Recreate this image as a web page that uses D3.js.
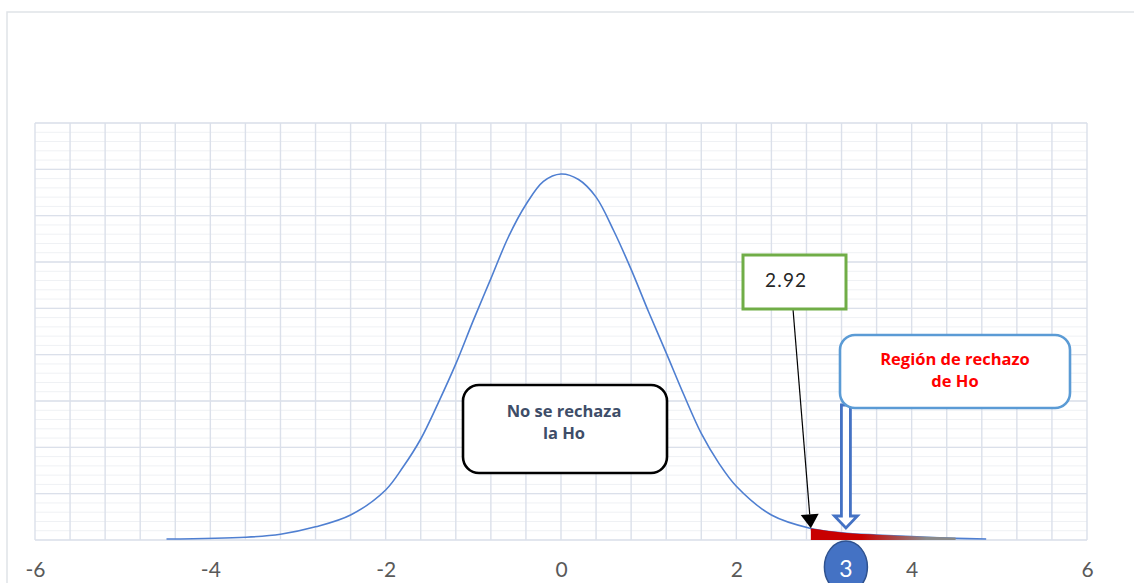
<!DOCTYPE html>
<html>
<head>
<meta charset="utf-8">
<script src="https://cdn.jsdelivr.net/npm/d3@7/dist/d3.min.js"></script>
<style>
  html, body { margin: 0; padding: 0; background: #fff; }
  svg { display: block; }
</style>
</head>
<body>
<div id="chart"></div>
<script>
// curve (x, density)
var curveX = [-4.5, -3.6, -3.2, -2.8, -2.4, -2.0, -1.8, -1.6, -1.4, -1.2, -1.0, -0.8, -0.6, -0.4, -0.2, 0,
              0.2, 0.4, 0.6, 0.8, 1.0, 1.2, 1.4, 1.6, 1.8, 2.0, 2.4, 2.85, 3.2, 3.6, 4.0, 4.5, 4.85];
var curveY = [0.001, 0.003, 0.0062, 0.0142, 0.027, 0.054, 0.079, 0.109, 0.148, 0.19, 0.237, 0.282, 0.327, 0.362, 0.387, 0.395,
              0.389, 0.37, 0.334, 0.292, 0.246, 0.202, 0.157, 0.115, 0.083, 0.058, 0.027, 0.0125, 0.0079, 0.0054, 0.0036, 0.0018, 0.001];

// rejection tail (filled)
var rejectX = [2.85, 3.2, 3.6, 4.0, 4.5];
var rejectY = [0.0115, 0.0072, 0.0048, 0.0032, 0.0016];

var xTickLabels = [-6, -4, -2, 0, 2, 4, 6];
var criticalLabel = '2.92';
var statLabel = '3';
var acceptText = ['No se rechaza', 'la Ho'];
var rejectText = ['Región de rechazo', 'de Ho'];

(function() {
  'use strict';

  var
    W = 1134,
    H = 583,
    plot = {left: 35, right: 1087, top: 123, bottom: 540},
    BLUE = '#4f7fd1',
    GRID = '#dbe0ea',
    MINOR = '#eff1f4',
    FONT = 'Lato, "Open Sans", sans-serif',
    BOLD = '"Open Sans", Lato, sans-serif';

  var svg = d3.select('#chart')
    .append('svg')
    .attr('width', W)
    .attr('height', H);

  svg.append('rect')
    .attr('width', W).attr('height', H)
    .attr('fill', '#fff');

  // outer chart frame
  svg.append('rect')
    .attr('x', 7).attr('y', 12)
    .attr('width', 1200).attr('height', 700)
    .attr('fill', 'none')
    .attr('stroke', '#e0e3e8')
    .attr('stroke-width', 1.5);

  var x = d3.scaleLinear().domain([-6, 6]).range([plot.left, plot.right]);
  var y = d3.scaleLinear().domain([0, 0.45]).range([plot.bottom, plot.top]);

  var grid = svg.append('g');

  // minor horizontal grid
  grid.selectAll('line.minor')
    .data(d3.range(0, 0.4501, 0.01))
    .enter()
    .append('line')
    .attr('class', 'minor')
    .attr('x1', plot.left).attr('x2', plot.right)
    .attr('y1', function(d) { return y(d); })
    .attr('y2', function(d) { return y(d); })
    .attr('stroke', MINOR)
    .attr('stroke-width', 1);

  // major horizontal grid
  grid.selectAll('line.hmajor')
    .data(d3.range(0, 0.4501, 0.05))
    .enter()
    .append('line')
    .attr('class', 'hmajor')
    .attr('x1', plot.left).attr('x2', plot.right)
    .attr('y1', function(d) { return y(d); })
    .attr('y2', function(d) { return y(d); })
    .attr('stroke', GRID)
    .attr('stroke-width', 1.4);

  // vertical grid
  grid.selectAll('line.v')
    .data(d3.range(0, 31).map(function(i) { return -6 + i * 0.4; }))
    .enter()
    .append('line')
    .attr('class', 'v')
    .attr('y1', plot.top).attr('y2', plot.bottom)
    .attr('x1', function(d) { return x(d); })
    .attr('x2', function(d) { return x(d); })
    .attr('stroke', GRID)
    .attr('stroke-width', 1.4);

  // x axis labels
  var xAxis = d3.axisBottom(x)
    .tickValues(xTickLabels)
    .tickFormat(function(d) { return String(d); })
    .tickSize(0)
    .tickPadding(0);

  var ax = svg.append('g')
    .attr('transform', 'translate(0,' + plot.bottom + ')')
    .call(xAxis);
  ax.select('.domain').remove();
  ax.selectAll('text')
    .attr('y', 37)
    .attr('dy', 0)
    .attr('fill', '#595959')
    .style('font-family', FONT)
    .style('font-size', '21px');

  var curve = curveX.map(function(v, i) { return [v, curveY[i]]; });
  var tail = rejectX.map(function(v, i) { return [v, rejectY[i]]; });

  var line = d3.line()
    .x(function(d) { return x(d[0]); })
    .y(function(d) { return y(d[1]); })
    .curve(d3.curveCatmullRom.alpha(0.5));

  svg.append('path')
    .attr('d', line(curve))
    .attr('fill', 'none')
    .attr('stroke', BLUE)
    .attr('stroke-width', 1.6);

  // rejection region, red fading to grey
  var defs = svg.append('defs');
  var grad = defs.append('linearGradient')
    .attr('id', 'rej')
    .attr('gradientUnits', 'userSpaceOnUse')
    .attr('x1', x(rejectX[0])).attr('x2', x(rejectX[rejectX.length - 1]))
    .attr('y1', 0).attr('y2', 0);
  grad.append('stop').attr('offset', '0%').attr('stop-color', '#c80000');
  grad.append('stop').attr('offset', '35%').attr('stop-color', '#c80000');
  grad.append('stop').attr('offset', '80%').attr('stop-color', '#8a8a8a');
  grad.append('stop').attr('offset', '100%').attr('stop-color', '#8a8a8a');

  var area = d3.area()
    .x(function(d) { return x(d[0]); })
    .y0(y(0))
    .y1(function(d) { return y(d[1]); })
    .curve(d3.curveMonotoneX);

  svg.append('path')
    .attr('d', area(tail))
    .attr('fill', 'url(#rej)');
  svg.append('path')
    .attr('d', d3.line()
      .x(function(d) { return x(d[0]); })
      .y(function(d) { return y(d[1]); })
      .curve(d3.curveMonotoneX)(tail))
    .attr('fill', 'none')
    .attr('stroke', 'url(#rej)')
    .attr('stroke-width', 1.8);

  // "No se rechaza" box
  svg.append('rect')
    .attr('x', 463).attr('y', 385)
    .attr('width', 204).attr('height', 88)
    .attr('rx', 16).attr('ry', 16)
    .attr('fill', '#fff')
    .attr('stroke', '#000')
    .attr('stroke-width', 2.6);
  svg.append('text')
    .attr('x', 564).attr('y', 417)
    .attr('text-anchor', 'middle')
    .attr('fill', '#3e4d68')
    .style('font-family', BOLD)
    .style('font-weight', 'bold')
    .style('font-size', '16.5px')
    .selectAll('tspan')
    .data(acceptText)
    .enter()
    .append('tspan')
    .attr('x', 564)
    .attr('dy', function(d, i) { return i ? 21.5 : 0; })
    .text(function(d) { return d; });

  // critical value callout
  var tipX = x(rejectX[0]), tipY = y(rejectY[0]) - 1;
  var startX = 793, startY = 309;
  var dx = tipX - startX, dy = tipY - startY, len = Math.sqrt(dx * dx + dy * dy);
  var ux = dx / len, uy = dy / len, headL = 14, headW = 9;
  var bx = tipX - ux * headL, by = tipY - uy * headL;

  svg.append('line')
    .attr('x1', startX).attr('y1', startY)
    .attr('x2', bx).attr('y2', by)
    .attr('stroke', '#000')
    .attr('stroke-width', 1.2);
  svg.append('path')
    .attr('d', 'M' + tipX + ',' + tipY +
      'L' + (bx - uy * headW) + ',' + (by + ux * headW) +
      'L' + (bx + uy * headW) + ',' + (by - ux * headW) + 'Z')
    .attr('fill', '#000');

  svg.append('rect')
    .attr('x', 743).attr('y', 255)
    .attr('width', 103).attr('height', 54)
    .attr('fill', '#fff')
    .attr('stroke', '#70ad47')
    .attr('stroke-width', 3);
  svg.append('text')
    .attr('x', 765).attr('y', 287)
    .attr('fill', '#262626')
    .style('font-family', FONT)
    .style('font-size', '19px')
    .style('letter-spacing', '1.2px')
    .text(criticalLabel);

  // block arrow under the rejection box
  var ac = x(3.25);
  svg.append('path')
    .attr('d', 'M' + (ac - 4.5) + ',405 L' + (ac + 4.5) + ',405 L' + (ac + 4.5) + ',516' +
      ' L' + (ac + 11.5) + ',516 L' + ac + ',528 L' + (ac - 11.5) + ',516' +
      ' L' + (ac - 4.5) + ',516 Z')
    .attr('fill', '#fff')
    .attr('stroke', '#4472c4')
    .attr('stroke-width', 2.8)
    .attr('stroke-linejoin', 'miter');

  svg.append('rect')
    .attr('x', 840).attr('y', 335)
    .attr('width', 230).attr('height', 73)
    .attr('rx', 15).attr('ry', 15)
    .attr('fill', '#fff')
    .attr('stroke', '#5b9bd5')
    .attr('stroke-width', 2.6);
  svg.append('text')
    .attr('x', 955).attr('y', 365)
    .attr('text-anchor', 'middle')
    .attr('fill', '#ff0000')
    .style('font-family', BOLD)
    .style('font-weight', 'bold')
    .style('font-size', '16.5px')
    .selectAll('tspan')
    .data(rejectText)
    .enter()
    .append('tspan')
    .attr('x', 955)
    .attr('dy', function(d, i) { return i ? 22 : 0; })
    .text(function(d) { return d; });

  // test statistic marker
  svg.append('ellipse')
    .attr('cx', ac).attr('cy', 567)
    .attr('rx', 21.5).attr('ry', 26)
    .attr('fill', '#4472c4')
    .attr('stroke', '#2f528f')
    .attr('stroke-width', 1.5);
  svg.append('text')
    .attr('x', ac).attr('y', 577)
    .attr('text-anchor', 'middle')
    .attr('fill', '#fff')
    .style('font-family', FONT)
    .style('font-size', '23px')
    .text(statLabel);
})();
</script>
</body>
</html>
